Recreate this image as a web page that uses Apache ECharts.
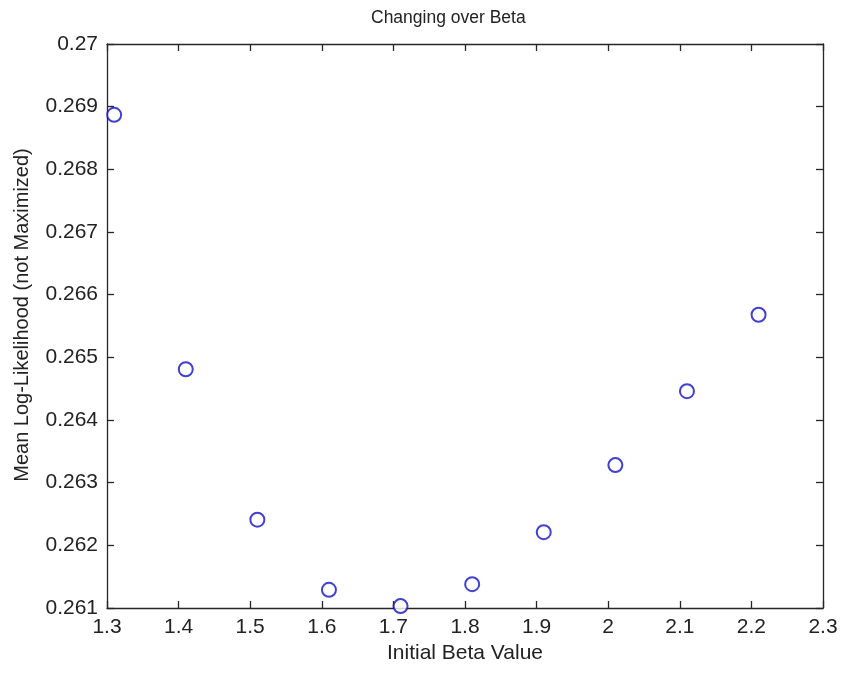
<!DOCTYPE html>
<html>
<head>
<meta charset="utf-8">
<script src="https://cdn.jsdelivr.net/npm/echarts@6/dist/echarts.min.js"></script>
<style>html,body{margin:0;padding:0;background:#fff;}#c{width:841px;height:673px;}</style>
</head>
<body>
<div id="c"></div>
<script>
const betaValues = [1.31, 1.41, 1.51, 1.61, 1.71, 1.81, 1.91, 2.01, 2.11, 2.21];
const meanLogLik = [0.26887, 0.26481, 0.26241, 0.26129, 0.26103, 0.26138, 0.26221, 0.26328, 0.26446, 0.26568];
const titleText = 'Changing over Beta';
const xName = 'Initial Beta Value';
const yName = 'Mean Log-Likelihood (not Maximized)';

const font = 'Liberation Sans, Arial, sans-serif';
const ink = '#262626';
const chart = echarts.init(document.getElementById('c'), null, {renderer: 'canvas'});
const axisCommon = {
  axisLine: {show: true, onZero: false, lineStyle: {color: ink, width: 1.3}},
  axisTick: {show: true, inside: true, length: 7, lineStyle: {color: ink, width: 1.3}},
  splitLine: {show: false}
};
chart.setOption({
  animation: false,
  backgroundColor: '#fff',
  title: {
    text: titleText, left: 366, top: 4,
    textStyle: {fontFamily: font, fontSize: 17.5, fontWeight: 'normal', color: '#222'}
  },
  grid: {left: 107, right: 18, top: 44, bottom: 65, containLabel: false},
  xAxis: [
    Object.assign({}, axisCommon, {
      type: 'value', min: 1.3, max: 2.3, interval: 0.1, position: 'bottom',
      name: xName, nameLocation: 'middle', nameGap: 34,
      nameTextStyle: {fontFamily: font, fontSize: 21, color: '#222'},
      axisLabel: {fontFamily: font, fontSize: 21, color: '#222', margin: 9,
        formatter: v => String(parseFloat(v.toFixed(1)))}
    }),
    Object.assign({}, axisCommon, {
      type: 'value', min: 1.3, max: 2.3, interval: 0.1, position: 'top',
      axisLabel: {show: false}
    })
  ],
  yAxis: [
    Object.assign({}, axisCommon, {
      type: 'value', min: 0.261, max: 0.27, interval: 0.001, position: 'left',
      name: yName, nameLocation: 'middle', nameGap: 75, nameRotate: 90,
      nameTextStyle: {fontFamily: font, fontSize: 20, color: '#222', padding: [0, 0, 0, 22]},
      axisLabel: {fontFamily: font, fontSize: 21, color: '#222', margin: 9,
        formatter: v => String(parseFloat(v.toFixed(3)))}
    }),
    Object.assign({}, axisCommon, {
      type: 'value', min: 0.261, max: 0.27, interval: 0.001, position: 'right',
      axisLabel: {show: false}
    })
  ],
  series: [{
    type: 'scatter',
    data: betaValues.map((b, i) => [b, meanLogLik[i]]),
    symbol: 'emptyCircle',
    symbolSize: 14,
    clip: false,
    itemStyle: {color: '#1010c8', borderColor: '#1010c8', borderWidth: 1.5}
  }]
});
</script>
</body>
</html>
